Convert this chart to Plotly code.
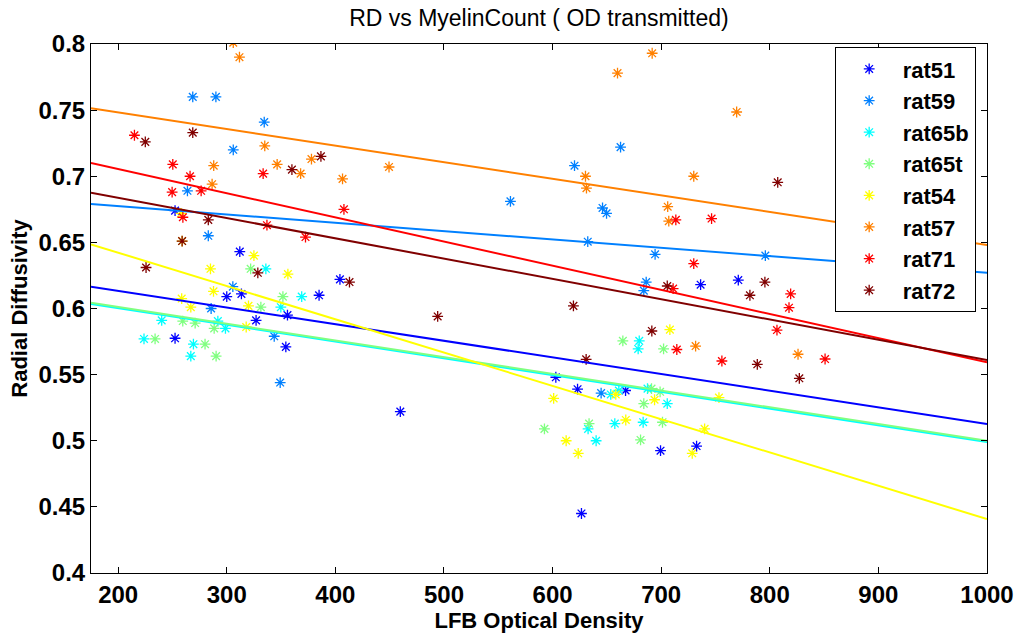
import plotly.graph_objects as go

series_names = ["rat51", "rat59", "rat65b", "rat65t", "rat54", "rat57", "rat71", "rat72"]
series_colors = ["#0000FF", "#0080FF", "#00FFFF", "#80FF80", "#FFFF00", "#FF8000", "#FF0000", "#800000"]

rat51_x = [252.4, 312, 404.2, 300, 313.5, 385, 355.9, 327, 252.4, 354.4, 459.8, 623, 667.2, 699.4, 732.6, 626.6, 736.3, 771, 603]
rat51_y = [0.674, 0.643, 0.622, 0.609, 0.611, 0.610, 0.595, 0.591, 0.5775, 0.571, 0.522, 0.539, 0.538, 0.4925, 0.496, 0.445, 0.618, 0.6215, 0.548]

rat59_x = [268.7, 290, 334.5, 306, 263.8, 283, 305.6, 285.6, 343.7, 349.2, 620.2, 662.6, 561.2, 646, 649.7, 632.4, 694.4, 686.2, 684, 795.9, 644.7]
rat59_y = [0.760, 0.760, 0.741, 0.720, 0.689, 0.655, 0.6165, 0.600, 0.579, 0.544, 0.708, 0.722, 0.681, 0.676, 0.672, 0.6505, 0.641, 0.620, 0.6135, 0.640, 0.536]

rat65b_x = [336, 369, 349.8, 240.1, 291.8, 298.8, 223.8, 269.3, 266.9, 679.8, 678.8, 705.6, 653.6, 661, 687.4, 632.7, 657.3, 683.4, 640.1]
rat65b_y = [0.630, 0.609, 0.601, 0.591, 0.5905, 0.585, 0.577, 0.573, 0.564, 0.5755, 0.5694, 0.528, 0.535, 0.538, 0.5394, 0.509, 0.513, 0.514, 0.500]

rat65t_x = [322, 351.7, 331.4, 259.5, 270.9, 288.4, 234, 280, 290.2, 664.7, 702.2, 691.1, 699, 684, 592.5, 633.6, 701.2, 681]
rat65t_y = [0.630, 0.609, 0.601, 0.5905, 0.589, 0.585, 0.577, 0.573, 0.564, 0.5755, 0.5694, 0.5394, 0.537, 0.528, 0.509, 0.513, 0.514, 0.5006]

rat54_x = [258, 258.9, 325, 285, 356.3, 287.8, 258.5, 266.9, 320, 317.9, 708, 658.2, 693.9, 753.2, 601, 667.4, 740, 612.5, 623.6, 728.6]
rat54_y = [0.672, 0.651, 0.640, 0.630, 0.626, 0.613, 0.6075, 0.601, 0.602, 0.586, 0.584, 0.535, 0.531, 0.5326, 0.532, 0.5157, 0.509, 0.500, 0.4905, 0.4905]

rat57_x = [306, 311.7, 335, 288, 346.4, 378, 368, 449.4, 286.5, 406.6, 691.7, 659.8, 630.3, 631.2, 730, 706, 707, 769.5, 731.7, 826]
rat57_y = [0.801, 0.790, 0.723, 0.708, 0.709, 0.713, 0.702, 0.707, 0.694, 0.698, 0.793, 0.778, 0.700, 0.691, 0.700, 0.677, 0.666, 0.7486, 0.5716, 0.5654]

rat71_x = [215, 250.3, 266.2, 333.5, 249.7, 276.4, 407.9, 259.6, 337, 372.5, 713.5, 746.4, 730, 711, 714.4, 755.9, 819.2, 817.7, 806.6, 850.9]
rat71_y = [0.731, 0.709, 0.700, 0.702, 0.688, 0.689, 0.675, 0.669, 0.663, 0.654, 0.667, 0.668, 0.634, 0.615, 0.569, 0.5603, 0.611, 0.6006, 0.5837, 0.5618]

rat72_x = [225, 268.7, 386.7, 360, 283, 258.9, 225.7, 328.6, 413, 494.2, 619.2, 691.4, 630.9, 705.6, 807.3, 795.5, 781.7, 788.5, 827.2]
rat72_y = [0.726, 0.733, 0.715, 0.705, 0.667, 0.651, 0.631, 0.627, 0.620, 0.594, 0.602, 0.583, 0.5616, 0.617, 0.6954, 0.620, 0.610, 0.5578, 0.5472]

# fitted line end values (at x = 175 and x = 1000)
fit_x = [175, 1000]
fit_start = [0.6165, 0.679, 0.6035, 0.6043, 0.6485, 0.7514, 0.710, 0.6876]
fit_end = [0.5127, 0.627, 0.4990, 0.5000, 0.4408, 0.648, 0.5593, 0.561]

xs = [rat51_x, rat59_x, rat65b_x, rat65t_x, rat54_x, rat57_x, rat71_x, rat72_x]
ys = [rat51_y, rat59_y, rat65b_y, rat65t_y, rat54_y, rat57_y, rat71_y, rat72_y]

x_ticks = [200, 300, 400, 500, 600, 700, 800, 900, 1000]
y_ticks = [0.4, 0.45, 0.5, 0.55, 0.6, 0.65, 0.7, 0.75, 0.8]

FONT = "Liberation Sans, Arial, sans-serif"

fig = go.Figure()
for i, name in enumerate(series_names):
    fig.add_trace(go.Scatter(
        x=xs[i], y=ys[i], mode="markers", name=name,
        legendgroup=name,
        marker=dict(symbol="asterisk-open", size=9, color=series_colors[i],
                    line=dict(color=series_colors[i], width=1.3)),
    ))
for i, name in enumerate(series_names):
    fig.add_trace(go.Scatter(
        x=fit_x, y=[fit_start[i], fit_end[i]], mode="lines", showlegend=False,
        legendgroup=name,
        line=dict(color=series_colors[i], width=2),
        hoverinfo="skip",
    ))

axis_common = dict(
    showline=True, linecolor="black", linewidth=1, mirror="ticks",
    ticks="inside", ticklen=6, tickcolor="black", showgrid=False, zeroline=False,
    automargin=False,
    tickfont=dict(family=FONT, size=24, color="black", weight="bold"),
)

fig.update_layout(
    width=1018, height=634,
    margin=dict(l=91, r=31, t=44, b=61),
    paper_bgcolor="white", plot_bgcolor="white",
    title=dict(text="RD vs MyelinCount ( OD transmitted)", x=0.5294, xanchor="center",
               y=0.972, yanchor="middle",
               font=dict(family=FONT, size=23, color="black")),
    xaxis=dict(range=[175, 1000], tickvals=x_ticks, ticktext=[str(v) for v in x_ticks],
               title=dict(text="LFB Optical Density", standoff=0,
                          font=dict(family=FONT, size=22, color="black", weight="bold")),
               **axis_common),
    yaxis=dict(range=[0.4, 0.8], tickvals=y_ticks, ticktext=[f"{v:g}" for v in y_ticks],
               title=dict(text="Radial Diffusivity", standoff=4,
                          font=dict(family=FONT, size=22, color="black", weight="bold")),
               **axis_common),
    legend=dict(x=0.830, y=0.994, xanchor="left", yanchor="top",
                bgcolor="white", bordercolor="black", borderwidth=1,
                font=dict(family=FONT, size=22, color="black", weight="bold"),
                itemwidth=57, tracegroupgap=0, traceorder="grouped"),
    showlegend=True,
)

fig.write_html("out.html")
